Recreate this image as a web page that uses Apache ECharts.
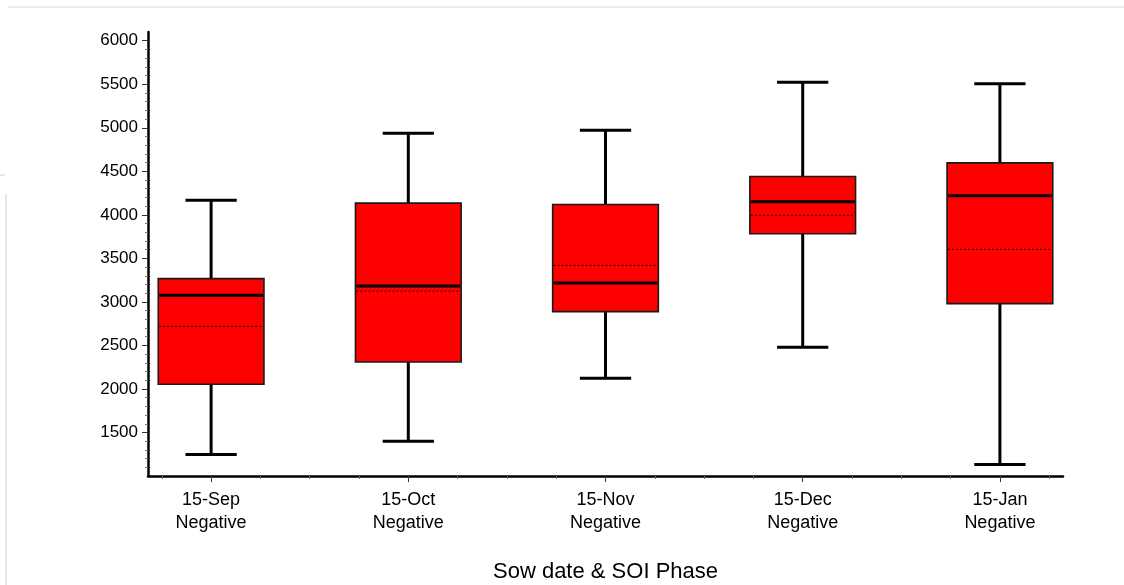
<!DOCTYPE html>
<html>
<head>
<meta charset="utf-8">
<script src="https://cdn.jsdelivr.net/npm/echarts@6/dist/echarts.min.js"></script>
<style>
  html, body { margin: 0; padding: 0; background: #fff; }
  #main { width: 1124px; height: 585px; }
</style>
</head>
<body>
<div id="main"></div>
<script>
// box plot data
const sowDates = ['15-Sep', '15-Oct', '15-Nov', '15-Dec', '15-Jan'];
const soiPhases = ['Negative', 'Negative', 'Negative', 'Negative', 'Negative'];
const lowerWhisker = [1248, 1400, 2123, 2479, 1133];
const q1 = [2054, 2310, 2888, 3783, 2980];
const median = [3075, 3182, 3216, 4150, 4219];
const q3 = [3267, 4134, 4119, 4440, 4597];
const upperWhisker = [4168, 4937, 4971, 5522, 5507];
const mean = [2719, 3124, 3419, 3996, 3603];
const yTicks = [1500, 2000, 2500, 3000, 3500, 4000, 4500, 5000, 5500, 6000];

const font = 'Liberation Sans, Arial, sans-serif';

// positions 1..5 on the x value axis
const xPos = sowDates.map((d, i) => i + 1);
const xMinor = [];
for (let v = 0.75; v < 5.3; v += 0.25) {
  if (Math.abs(v - Math.round(v)) > 0.01) xMinor.push(v);
}
const yMinor = [];
for (let v = 1000; v <= 6000; v += 100) {
  if (v % 500 !== 0) yMinor.push(v);
}

const data = xPos.map((x, i) => [x, lowerWhisker[i], q1[i], median[i], q3[i], upperWhisker[i], mean[i]]);

function renderBox(params, api) {
  const x = api.value(0);
  const unit = api.size([1, 0])[0];
  const half = unit * 0.268;
  const cap = unit * 0.13;
  const pLow = api.coord([x, api.value(1)]);
  const pQ1 = api.coord([x, api.value(2)]);
  const pMed = api.coord([x, api.value(3)]);
  const pQ3 = api.coord([x, api.value(4)]);
  const pHigh = api.coord([x, api.value(5)]);
  const pMean = api.coord([x, api.value(6)]);
  const cx = pMed[0];
  const lineStyle = { stroke: '#000', lineWidth: 3 };
  return {
    type: 'group',
    children: [
      // whiskers
      { type: 'line', shape: { x1: cx, y1: pQ3[1], x2: cx, y2: pHigh[1] }, style: lineStyle },
      { type: 'line', shape: { x1: cx, y1: pQ1[1], x2: cx, y2: pLow[1] }, style: lineStyle },
      { type: 'line', shape: { x1: cx - cap, y1: pHigh[1], x2: cx + cap, y2: pHigh[1] }, style: lineStyle },
      { type: 'line', shape: { x1: cx - cap, y1: pLow[1], x2: cx + cap, y2: pLow[1] }, style: lineStyle },
      // box
      {
        type: 'rect',
        shape: { x: cx - half, y: pQ3[1], width: half * 2, height: pQ1[1] - pQ3[1] },
        style: { fill: '#ff0000', stroke: '#1a1a1a', lineWidth: 1.6 }
      },
      // mean (dotted)
      {
        type: 'line',
        shape: { x1: cx - half + 1, y1: pMean[1], x2: cx + half - 1, y2: pMean[1] },
        style: { stroke: '#000', lineWidth: 1, lineDash: [2, 2] }
      },
      // median
      { type: 'line', shape: { x1: cx - half + 1, y1: pMed[1], x2: cx + half - 1, y2: pMed[1] }, style: lineStyle }
    ]
  };
}

const chart = echarts.init(document.getElementById('main'), null, { renderer: 'canvas' });

const option = {
  backgroundColor: '#fff',
  animation: false,
  textStyle: { fontFamily: font },
  grid: { left: 148, right: 61, top: 32, bottom: 109, containLabel: false, outerBoundsMode: 'none' },
  xAxis: [{
    type: 'value',
    min: 0.68,
    max: 5.32,
    name: 'Sow date & SOI Phase',
    nameLocation: 'middle',
    nameGap: 85,
    nameTextStyle: { fontSize: 22, color: '#000', fontFamily: font },
    splitLine: { show: false },
    axisLine: { show: true, lineStyle: { color: '#000', width: 2.5 } },
    axisTick: { show: true, length: 6, customValues: xPos, lineStyle: { color: '#333', width: 1 } },
    axisLabel: {
      customValues: xPos,
      margin: 13,
      fontSize: 18,
      lineHeight: 23,
      color: '#000',
      fontFamily: font,
      formatter: function (v) {
        const i = Math.round(v) - 1;
        return sowDates[i] + '\n' + soiPhases[i];
      }
    }
  }, {
    // minor ticks on the x axis
    type: 'value',
    position: 'bottom',
    min: 0.68,
    max: 5.32,
    splitLine: { show: false },
    axisLine: { show: false },
    axisTick: { show: true, length: 3, customValues: xMinor, lineStyle: { color: '#666', width: 1 } },
    axisLabel: { show: false }
  }],
  yAxis: [{
    type: 'value',
    min: 1000,
    max: 6100,
    splitLine: { show: false },
    axisLine: { show: true, lineStyle: { color: '#000', width: 2.5 } },
    axisTick: { show: true, length: 6, customValues: yTicks, lineStyle: { color: '#333', width: 1 } },
    axisLabel: {
      customValues: yTicks,
      margin: 10,
      fontSize: 17,
      color: '#000',
      fontFamily: font,
      formatter: function (v) { return String(v); }
    }
  }, {
    // minor ticks on the y axis
    type: 'value',
    position: 'left',
    min: 1000,
    max: 6100,
    splitLine: { show: false },
    axisLine: { show: false },
    axisTick: { show: true, length: 3, customValues: yMinor, lineStyle: { color: '#777', width: 1 } },
    axisLabel: { show: false }
  }],
  graphic: [
    // faint slide border left in the screenshot
    { type: 'line', shape: { x1: 8, y1: 7, x2: 1124, y2: 7 }, style: { stroke: '#efece3', lineWidth: 2 } },
    { type: 'line', shape: { x1: 6, y1: 194, x2: 6, y2: 585 }, style: { stroke: '#ebe7db', lineWidth: 2 } },
    { type: 'line', shape: { x1: 0, y1: 175, x2: 5, y2: 175 }, style: { stroke: '#cccccc', lineWidth: 1 } }
  ],
  series: [{
    type: 'custom',
    xAxisIndex: 0,
    yAxisIndex: 0,
    renderItem: renderBox,
    encode: { x: 0, y: [1, 2, 3, 4, 5, 6] },
    data: data,
    clip: false
  }]
};

chart.setOption(option);
</script>
</body>
</html>
